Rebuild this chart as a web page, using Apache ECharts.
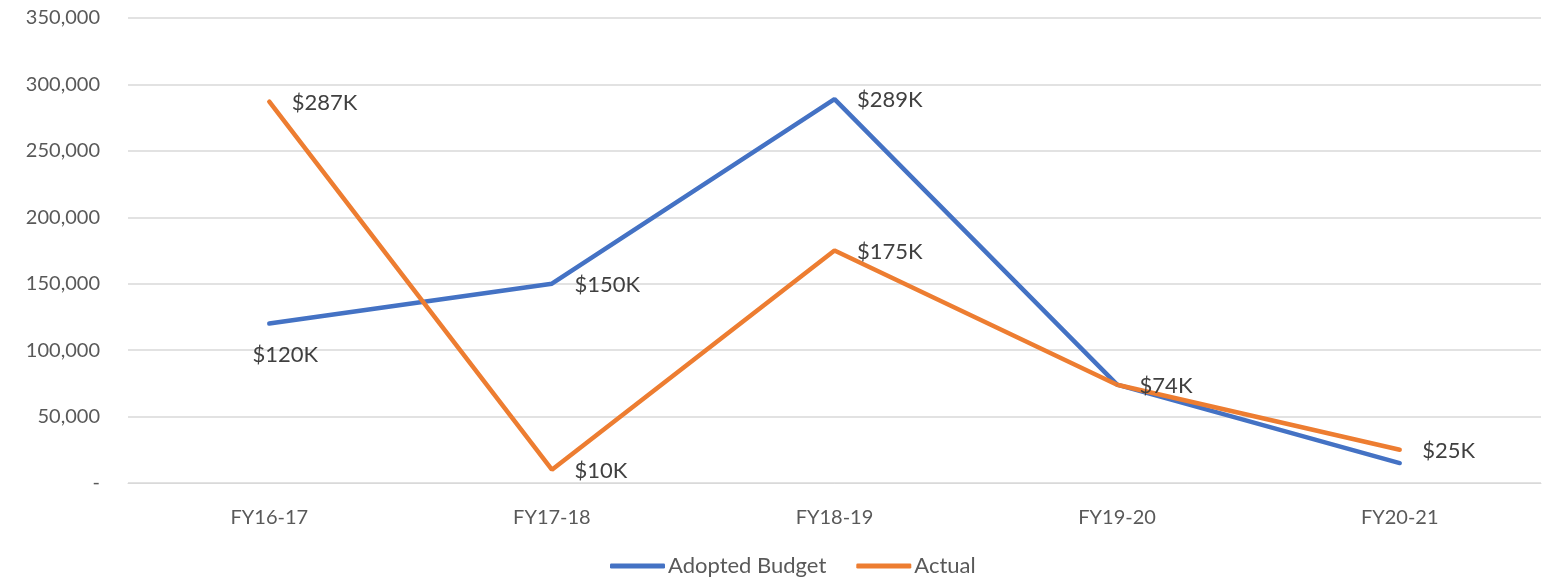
<!DOCTYPE html>
<html><head><meta charset="utf-8">
<script src="https://cdn.jsdelivr.net/npm/echarts@6/dist/echarts.min.js"></script>
<style>html,body{margin:0;padding:0;background:#fff}#c{width:1545px;height:580px}</style>
</head><body><div id="c"></div>
<script>
const categories = ['FY16-17','FY17-18','FY18-19','FY19-20','FY20-21'];
const adoptedBudget = [120000,150000,289000,74000,15000];
const actual = [287000,10000,175000,74000,25000];
const budgetLabels = ['$120K','$150K','$289K','',''];
const actualLabels = ['$287K','$10K','$175K','$74K','$25K'];
const yTicks = [0,50000,100000,150000,200000,250000,300000,350000];

const FONT = 'Lato, "Open Sans", sans-serif';
const chart = echarts.init(document.getElementById('c'));
function mkData(vals, labels, pos){
  return vals.map((v,i)=>({value:v, label:{show:labels[i]!=='', formatter:labels[i], position: pos[i]||'right', distance:22,
    offset: pos[i]==='bottom'?[16,-2]:[0,1]}}));
}
const lblStyle = {show:true,fontFamily:FONT,fontSize:22,color:'#404040'};
chart.setOption({
  animation:false,
  grid:{left:128,right:4,top:18,bottom:97,containLabel:false},
  legend:{bottom:-2,left:605,itemWidth:55,itemHeight:5,itemGap:30,icon:'roundRect',
    textStyle:{fontFamily:FONT,fontSize:22,color:'#595959',padding:[0,0,0,-2]},
    data:['Adopted Budget','Actual']},
  xAxis:{type:'category',data:categories,boundaryGap:true,
    axisLine:{lineStyle:{color:'#d9d9d9',width:1}},axisTick:{show:false},
    axisLabel:{fontFamily:FONT,fontSize:20,color:'#595959',margin:25}},
  yAxis:{type:'value',min:0,max:350000,interval:50000,
    axisLine:{show:false},axisTick:{show:false},
    splitLine:{lineStyle:{color:'#d9d9d9',width:1.5}},
    axisLabel:{fontFamily:FONT,fontSize:20,color:'#595959',margin:28,
      formatter:v=>v===0?'-':v.toLocaleString('en-US')}},
  series:[
    {name:'Adopted Budget',type:'line',data:mkData(adoptedBudget,budgetLabels,['bottom','right','right','right','right']),
      symbol:'circle',symbolSize:1,showSymbol:true,
      lineStyle:{color:'#4472c4',width:4.5,cap:'round'},itemStyle:{color:'#4472c4'},
      label:lblStyle},
    {name:'Actual',type:'line',data:mkData(actual,actualLabels,['right','right','right','right','right']),
      symbol:'circle',symbolSize:1,showSymbol:true,
      lineStyle:{color:'#ed7d31',width:4.5,cap:'round'},itemStyle:{color:'#ed7d31'},
      label:lblStyle}
  ]
});
</script></body></html>
